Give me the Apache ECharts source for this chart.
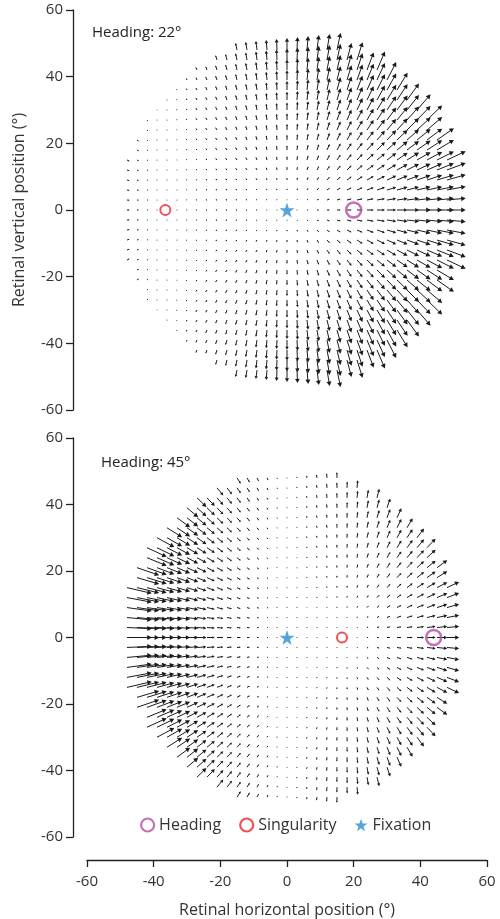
<!DOCTYPE html>
<html><head><meta charset="utf-8">
<script src="https://cdn.jsdelivr.net/npm/echarts@6/dist/echarts.min.js"></script>
<style>html,body{margin:0;padding:0;background:#fff}#c{width:500px;height:919px}</style>
</head><body><div id="c"></div>
<script>
// ---- values ----
const panelLabels = ['Heading: 22°', 'Heading: 45°'];
const headingX = [20, 44];               // heading marker position (deg)
const singularityX = [-36.5, 16.5];      // singularity marker position (deg)
const fixationX = [0, 0];                // fixation marker (deg)
// per panel: column where the flow vanishes, point the flow radiates from,
// gain read from arrow lengths, and vertical/horizontal stretch read from arrow angles
const zeroColumnX = [-36.5, 0];
const radiateFromX = [0, 16.5];
const flowGain = [0.00138, 0.0024];
const verticalStretch = [1.5, 1.0];
const gridStep = 3;                      // spacing of the flow-vector grid (deg)
const fieldRadius = 50;                  // radius of the sampled field (deg)
const legendNames = ['Heading', 'Singularity', 'Fixation'];

function buildField(p) {
  const out = [];
  for (let X = -48; X <= 51; X += gridStep) {
    for (let Y = -48; Y <= 51; Y += gridStep) {
      if (Math.hypot(X, Y) > fieldRadius + 0.5) continue;
      const g = flowGain[p] * (X - zeroColumnX[p]);
      out.push([X, Y, g * (X - radiateFromX[p]), g * verticalStretch[p] * Y]);
    }
  }
  return out;
}
const fieldTop = buildField(0);
const fieldBottom = buildField(1);

const INK = '#1a1a1a';
function renderArrow(params, api) {
  const x0 = api.value(0), y0 = api.value(1), dx = api.value(2), dy = api.value(3);
  const p0 = api.coord([x0, y0]);
  const p1 = api.coord([x0 + dx, y0 + dy]);
  const vx = p1[0] - p0[0], vy = p1[1] - p0[1];
  const L = Math.hypot(vx, vy);
  if (L < 0.6) {
    return {type: 'circle', shape: {cx: p0[0], cy: p0[1], r: 0.5}, style: {fill: INK}};
  }
  const ux = vx / L, uy = vy / L;
  const hl = Math.min(4.5, Math.max(1.0, L * 0.32));
  const hw = hl * 0.55;
  const bx = p1[0] - ux * hl, by = p1[1] - uy * hl;
  return {
    type: 'group',
    children: [
      {type: 'line', shape: {x1: p0[0], y1: p0[1], x2: bx + ux * 0.5, y2: by + uy * 0.5}, style: {stroke: INK, lineWidth: 1}},
      {type: 'polygon', shape: {points: [[p1[0], p1[1]], [bx - uy * hw, by + ux * hw], [bx + uy * hw, by - ux * hw]]}, style: {fill: INK}}
    ]
  };
}

const STAR = 'path://M50,0 L61.8,35.1 L98.1,35.1 L68.8,56.7 L79.4,91.0 L50,70 L20.6,91.0 L31.2,56.7 L1.9,35.1 L38.2,35.1 Z';
const C_HEAD = '#b54ea5', C_SING = '#e8272c', C_FIX = '#2a8fd1';
const FONT = '"Open Sans", Lato, sans-serif';

function markerSeries(p) {
  return [
    {name: legendNames[0], type: 'scatter', xAxisIndex: p, yAxisIndex: p, z: 5,
     data: [[headingX[p], 0]], symbol: 'circle', symbolSize: 15,
     itemStyle: {color: 'rgba(255,255,255,0)', borderColor: C_HEAD, borderWidth: 2.5}},
    {name: legendNames[1], type: 'scatter', xAxisIndex: p, yAxisIndex: p, z: 5,
     data: [[singularityX[p], 0]], symbol: 'circle', symbolSize: 10,
     itemStyle: {color: '#fff', borderColor: C_SING, borderWidth: 2}},
    {name: legendNames[2], type: 'scatter', xAxisIndex: p, yAxisIndex: p, z: 5,
     data: [[fixationX[p], 0]], symbol: STAR, symbolSize: 15,
     itemStyle: {color: C_FIX}}
  ];
}

const axisCommon = {
  min: -60, max: 60, interval: 20,
  splitLine: {show: false},
  axisLine: {show: true, onZero: false, lineStyle: {color: '#222', width: 1.3}},
  axisTick: {show: true, length: 7, lineStyle: {color: '#222', width: 1.3}},
  axisLabel: {color: '#333', fontSize: 15, fontFamily: FONT, margin: 10},
  nameTextStyle: {color: '#333', fontSize: 16, fontFamily: FONT}
};

const chart = echarts.init(document.getElementById('c'), null, {renderer: 'canvas'});
chart.setOption({
  animation: false,
  grid: [
    {left: 87, width: 400, top: 10, height: 400},
    {left: 87, width: 400, top: 438, height: 400}
  ],
  xAxis: [
    Object.assign({}, axisCommon, {gridIndex: 0, show: false}),
    Object.assign({}, axisCommon, {gridIndex: 1, position: 'bottom', offset: 23,
      axisLabel: Object.assign({}, axisCommon.axisLabel, {margin: 14}),
      name: 'Retinal horizontal position (°)', nameLocation: 'middle', nameGap: 42})
  ],
  yAxis: [
    Object.assign({}, axisCommon, {gridIndex: 0, offset: 14,
      name: 'Retinal vertical position (°)', nameLocation: 'middle', nameGap: 46}),
    Object.assign({}, axisCommon, {gridIndex: 1, offset: 14})
  ],
  legend: {
    left: 135, top: 812, itemWidth: 13, itemHeight: 13, itemGap: 18,
    textStyle: {color: '#333', fontSize: 16, fontFamily: FONT},
    data: [
      {name: legendNames[0], icon: 'circle', itemStyle: {color: '#fff', borderColor: C_HEAD, borderWidth: 2.2}},
      {name: legendNames[1], icon: 'circle', itemStyle: {color: '#fff', borderColor: C_SING, borderWidth: 2.2}},
      {name: legendNames[2], icon: STAR, itemStyle: {color: C_FIX}}
    ]
  },
  graphic: [
    {type: 'text', left: 92, top: 25, style: {text: panelLabels[0], fill: '#222', fontSize: 15, fontFamily: FONT}},
    {type: 'text', left: 101, top: 455, style: {text: panelLabels[1], fill: '#222', fontSize: 15, fontFamily: FONT}}
  ],
  series: [
    {type: 'custom', xAxisIndex: 0, yAxisIndex: 0, renderItem: renderArrow, data: fieldTop, z: 2, silent: true},
    {type: 'custom', xAxisIndex: 1, yAxisIndex: 1, renderItem: renderArrow, data: fieldBottom, z: 2, silent: true}
  ].concat(markerSeries(0), markerSeries(1))
});
</script></body></html>
